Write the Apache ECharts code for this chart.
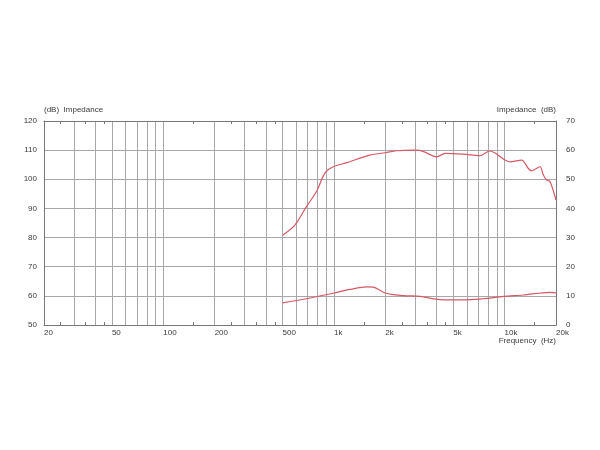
<!DOCTYPE html>
<html>
<head>
<meta charset="utf-8">
<script src="https://cdn.jsdelivr.net/npm/echarts@6/dist/echarts.min.js"></script>
<style>html,body{margin:0;padding:0;background:#fff}#c{width:600px;height:450px}</style>
</head>
<body>
<div id="c"></div>
<script>
// Frequency tick labels (Hz)
var freqLabels = [20, 50, 100, 200, 500, 1000, 2000, 5000, 10000, 20000];
// Vertical grid lines (Hz)
var freqGrid = [30, 40, 50, 60, 70, 80, 90, 100, 200, 300, 400, 500, 600, 700, 800, 900, 1000, 2000, 3000, 4000, 5000, 6000, 7000, 8000, 9000, 10000];
// Minor tick marks (Hz)
var freqMinor = [25, 35, 45, 150, 250, 350, 450, 1500, 2500, 3500, 4500, 15000];
// SPL response curve [Hz, dB]
var splCurve = [
  [500, 80.8], [590, 84.3], [690, 90.6], [790, 95.8], [885, 102.1], [990, 104.3],
  [1190, 105.7], [1620, 108.3], [2000, 109.1], [2320, 109.8], [3050, 110.0],
  [3350, 109.5], [4000, 107.7], [4480, 108.9], [5730, 108.6], [7170, 108.1],
  [8200, 109.7], [8980, 108.7], [10050, 106.6], [10750, 106.0], [12580, 106.6],
  [13770, 103.7], [14390, 102.9], [16110, 104.3], [16860, 101.5], [17620, 99.8],
  [18440, 99.2], [20000, 92.9]
];
// Impedance curve [Hz, dB on left scale]
var impCurve = [
  [500, 57.6], [690, 59.0], [990, 60.9], [1240, 62.2], [1560, 63.1], [1700, 63.0],
  [2010, 60.9], [2550, 60.1], [3200, 59.8], [4180, 58.7], [5730, 58.6], [7400, 59.0],
  [9900, 59.8], [12860, 60.3], [18440, 61.2], [20000, 61.0]
];

var lineColor = '#d45a66';
var gridColor = '#a8a8a8';
var axisColor = '#777';
var txt = {color: '#3a3a3a', fontSize: 8, fontFamily: 'Liberation Sans, Arial, sans-serif'};

function fmt(v) { return v >= 1000 ? (v / 1000) + 'k' : String(v); }

var chart = echarts.init(document.getElementById('c'));
chart.setOption({
  animation: false,
  backgroundColor: '#fff',
  grid: {left: 44, right: 44, top: 121, bottom: 125},
  xAxis: [
    {
      type: 'log', logBase: 10, min: 20, max: 20000, position: 'bottom',
      axisLine: {lineStyle: {color: axisColor, width: 1}},
      axisTick: {show: true, inside: true, length: 3, customValues: freqMinor, lineStyle: {color: axisColor}},
      axisLabel: {customValues: freqLabels, formatter: fmt, margin: 4, align: 'left', color: txt.color, fontSize: txt.fontSize, fontFamily: txt.fontFamily},
      splitLine: {show: false}
    },
    {
      type: 'log', logBase: 10, min: 20, max: 20000, position: 'top',
      axisLine: {show: true, lineStyle: {color: axisColor, width: 1}},
      axisTick: {show: true, inside: true, length: 3, customValues: freqMinor, lineStyle: {color: axisColor}},
      axisLabel: {show: false},
      splitLine: {show: false}
    },
    {
      type: 'log', logBase: 10, min: 20, max: 20000, position: 'bottom',
      axisLine: {show: false},
      axisTick: {show: false, customValues: freqGrid},
      axisLabel: {show: false},
      splitLine: {show: true, lineStyle: {color: gridColor, width: 1}}
    }
  ],
  yAxis: [
    {
      type: 'value', min: 50, max: 120, interval: 10, position: 'left',
      axisLine: {show: true, lineStyle: {color: axisColor}},
      axisTick: {show: false},
      axisLabel: {margin: 7, color: txt.color, fontSize: txt.fontSize, fontFamily: txt.fontFamily},
      splitLine: {show: true, lineStyle: {color: gridColor, width: 1}}
    },
    {
      type: 'value', min: 0, max: 70, interval: 10, position: 'right',
      axisLine: {show: true, lineStyle: {color: axisColor}},
      axisTick: {show: false},
      axisLabel: {margin: 10, color: txt.color, fontSize: txt.fontSize, fontFamily: txt.fontFamily},
      splitLine: {show: false}
    }
  ],
  graphic: [
    {type: 'text', left: 44, top: 106, style: {text: '(dB)  Impedance', fill: txt.color, font: '8px Liberation Sans, Arial, sans-serif'}},
    {type: 'text', right: 44, top: 106, style: {text: 'Impedance  (dB)', fill: txt.color, font: '8px Liberation Sans, Arial, sans-serif'}},
    {type: 'text', right: 44, top: 337, style: {text: 'Frequency  (Hz)', fill: txt.color, font: '8px Liberation Sans, Arial, sans-serif'}}
  ],
  series: [
    {type: 'line', xAxisIndex: 0, yAxisIndex: 0, data: splCurve, showSymbol: false, smooth: 0.3,
     lineStyle: {color: lineColor, width: 1.2}},
    {type: 'line', xAxisIndex: 0, yAxisIndex: 0, data: impCurve, showSymbol: false, smooth: 0.3,
     lineStyle: {color: lineColor, width: 1.2}}
  ]
});
</script>
</body>
</html>
